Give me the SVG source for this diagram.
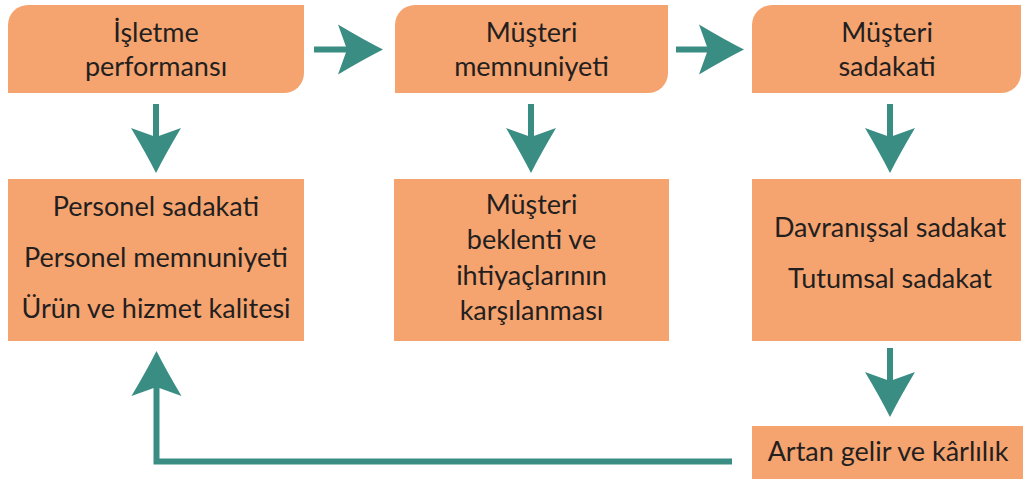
<svg xmlns="http://www.w3.org/2000/svg" width="1023" height="479" viewBox="0 0 1023 479">
<style>
.box{fill:#F6A46F}
.t{font-family:Lato,"Open Sans","Liberation Sans",sans-serif;font-size:27px;fill:#231F20;text-anchor:middle}
.sh{stroke:#3A8D83;stroke-width:6;fill:none}
.hd{fill:#3A8D83}
</style>
<defs>
<path id="ah" d="M0,0 Q-18,-9 -45,-25 L-36,0 L-45,25 Q-18,9 0,0 Z"/>
</defs>
<rect width="1023" height="479" fill="#FFFFFF"/>
<g id="n1">
<path class="box" d="M28,5 H304 V73 A20,20 0 0 1 284,93 H8 V25 A20,20 0 0 1 28,5 Z"/>
<text class="t" x="156" y="42">İşletme</text>
<text class="t" x="156" y="76">performansı</text>
</g>
<g id="n2">
<path class="box" d="M415,5 H668 V73 A20,20 0 0 1 648,93 H395 V25 A20,20 0 0 1 415,5 Z"/>
<text class="t" x="531.5" y="42">Müşteri</text>
<text class="t" x="531.5" y="76">memnuniyeti</text>
</g>
<g id="n3">
<path class="box" d="M772,5 H1021 V73 A20,20 0 0 1 1001,93 H752 V25 A20,20 0 0 1 772,5 Z"/>
<text class="t" x="887" y="42">Müşteri</text>
<text class="t" x="887" y="76">sadakati</text>
</g>
<g id="n4">
<rect class="box" x="8" y="179" width="296" height="162"/>
<text class="t" x="156" y="216">Personel sadakati</text>
<text class="t" x="156" y="267">Personel memnuniyeti</text>
<text class="t" x="156" y="318">Ürün ve hizmet kalitesi</text>
</g>
<g id="n5">
<rect class="box" x="394" y="179" width="275" height="162"/>
<text class="t" x="531.5" y="214">Müşteri</text>
<text class="t" x="531.5" y="249">beklenti ve</text>
<text class="t" x="531.5" y="285">ihtiyaçlarının</text>
<text class="t" x="531.5" y="320">karşılanması</text>
</g>
<g id="n6">
<rect class="box" x="752" y="179" width="269" height="162"/>
<text class="t" x="890" y="237">Davranışsal sadakat</text>
<text class="t" x="890" y="288">Tutumsal sadakat</text>
</g>
<g id="n7">
<rect class="box" x="752" y="426" width="271" height="53"/>
<text class="t" x="888" y="461">Artan gelir ve kârlılık</text>
</g>
<g id="connectors">
<line class="sh" x1="314" y1="49.5" x2="352" y2="49.5"/>
<use href="#ah" class="hd" transform="translate(383,49.5)"/>
<line class="sh" x1="676" y1="49.5" x2="714" y2="49.5"/>
<use href="#ah" class="hd" transform="translate(744,49.5)"/>
<line class="sh" x1="156" y1="104" x2="156" y2="142"/>
<use href="#ah" class="hd" transform="translate(156,173) rotate(90)"/>
<line class="sh" x1="531" y1="104" x2="531" y2="142"/>
<use href="#ah" class="hd" transform="translate(531,173) rotate(90)"/>
<line class="sh" x1="890" y1="104" x2="890" y2="142"/>
<use href="#ah" class="hd" transform="translate(890,173) rotate(90)"/>
<line class="sh" x1="890" y1="348" x2="890" y2="386"/>
<use href="#ah" class="hd" transform="translate(890,417) rotate(90)"/>
<polyline class="sh" points="732,461.5 156.5,461.5 156.5,382"/>
<use href="#ah" class="hd" transform="translate(156.5,351) rotate(-90)"/>
</g>
</svg>
